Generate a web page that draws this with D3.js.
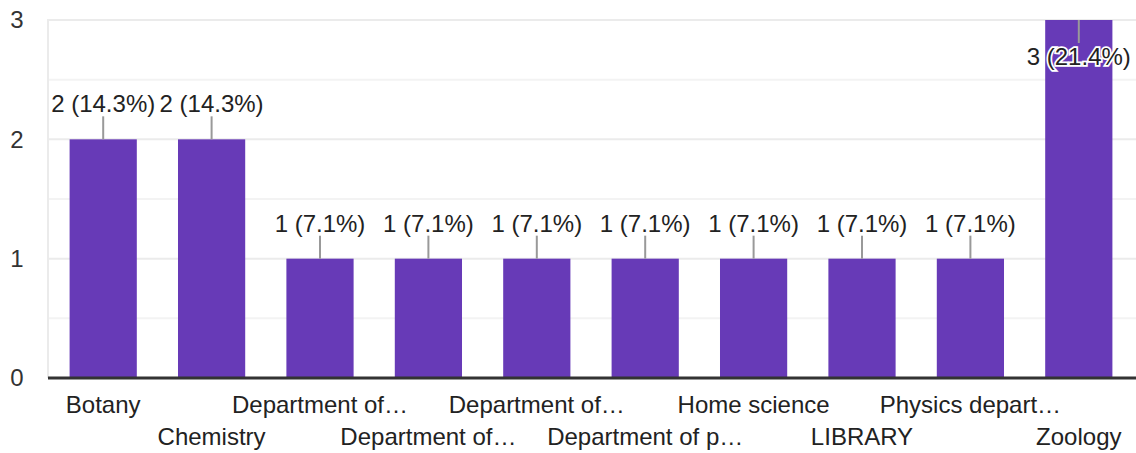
<!DOCTYPE html>
<html>
<head>
<meta charset="utf-8">
<style>
  body { margin: 0; background: #fff; }
  text { font-family: "Liberation Sans", Arial, sans-serif; }
</style>
</head>
<body>
<div id="vis"></div>
<script src="https://d3js.org/d3.v7.min.js"></script>
<script>
// chart data
const categories = ["Botany", "Chemistry", "Department of…", "Department of…", "Department of…",
                    "Department of p…", "Home science", "LIBRARY", "Physics depart…", "Zoology"];
const counts = [2, 2, 1, 1, 1, 1, 1, 1, 1, 3];
const percents = ["14.3%", "14.3%", "7.1%", "7.1%", "7.1%", "7.1%", "7.1%", "7.1%", "7.1%", "21.4%"];
const yTicks = [0, 1, 2, 3];
const yMinor = [0.5, 1.5, 2.5];

const w = 1136, h = 453;
const fs = 24;
let svg = d3.select("#vis").append("svg")
  .attr("width", w)
  .attr("height", h);

let x = d3.scaleBand()
  .domain(d3.range(categories.length))
  .range([49, 1133])
  .paddingInner(0.38)
  .paddingOuter(0.19);

let y = d3.scaleLinear().domain([0, 3]).range([378, 20]);

// grid
svg.selectAll("line.minor").data(yMinor).enter().append("line")
  .attr("x1", 48).attr("x2", w)
  .attr("y1", d => y(d)).attr("y2", d => y(d))
  .style("stroke", "#f3f3f3").style("stroke-width", 2);
svg.selectAll("line.major").data(yTicks.slice(1)).enter().append("line")
  .attr("x1", 48).attr("x2", w)
  .attr("y1", d => y(d)).attr("y2", d => y(d))
  .style("stroke", "#ebebeb").style("stroke-width", 2);
svg.append("line")
  .attr("x1", 48).attr("x2", 48)
  .attr("y1", y(3) - 1).attr("y2", y(0))
  .style("stroke", "#ebebeb").style("stroke-width", 2);

// y tick labels
svg.selectAll("text.ytick").data(yTicks).enter().append("text")
  .attr("x", 17).attr("y", d => y(d))
  .attr("dy", "0.35em")
  .attr("text-anchor", "middle")
  .style("font-size", fs + "px")
  .style("fill", "#333")
  .text(d => d);

// bars
svg.selectAll("rect").data(counts).enter().append("rect")
  .attr("x", (d, i) => x(i))
  .attr("y", d => y(d))
  .attr("width", x.bandwidth())
  .attr("height", d => y(0) - y(d))
  .style("fill", "#673ab7");

// baseline
svg.append("line")
  .attr("x1", 48).attr("x2", w)
  .attr("y1", y(0)).attr("y2", y(0))
  .style("stroke", "#333").style("stroke-width", 3);

// value labels with leader lines
const maxVal = d3.max(counts);
counts.forEach(function(d, i) {
  let cx = x(i) + x.bandwidth() / 2;
  let top = y(d);
  let inside = d === maxVal;
  let y1 = inside ? top : top - 23;
  let y2 = inside ? top + 23 : top;
  svg.append("line")
    .attr("x1", cx).attr("x2", cx)
    .attr("y1", y1).attr("y2", y2)
    .style("stroke", "#999").style("stroke-width", 2);
  let ty = inside ? top + 45 : top - 27;
  let label = d + " (" + percents[i] + ")";
  if (inside) {
    svg.append("text")
      .attr("x", cx).attr("y", ty)
      .attr("text-anchor", "middle")
      .style("font-size", fs + "px")
      .style("fill", "none")
      .style("stroke", "#fff").style("stroke-width", 3.5)
      .text(label);
  }
  svg.append("text")
    .attr("x", cx).attr("y", ty)
    .attr("text-anchor", "middle")
    .style("font-size", fs + "px")
    .style("fill", "#222")
    .text(label);
});

// x labels, alternating rows
svg.selectAll("text.xlab").data(categories).enter().append("text")
  .attr("x", (d, i) => x(i) + x.bandwidth() / 2)
  .attr("y", (d, i) => i % 2 === 0 ? 413 : 445)
  .attr("text-anchor", "middle")
  .style("font-size", fs + "px")
  .style("fill", "#222")
  .text(d => d);
</script>
</body>
</html>
